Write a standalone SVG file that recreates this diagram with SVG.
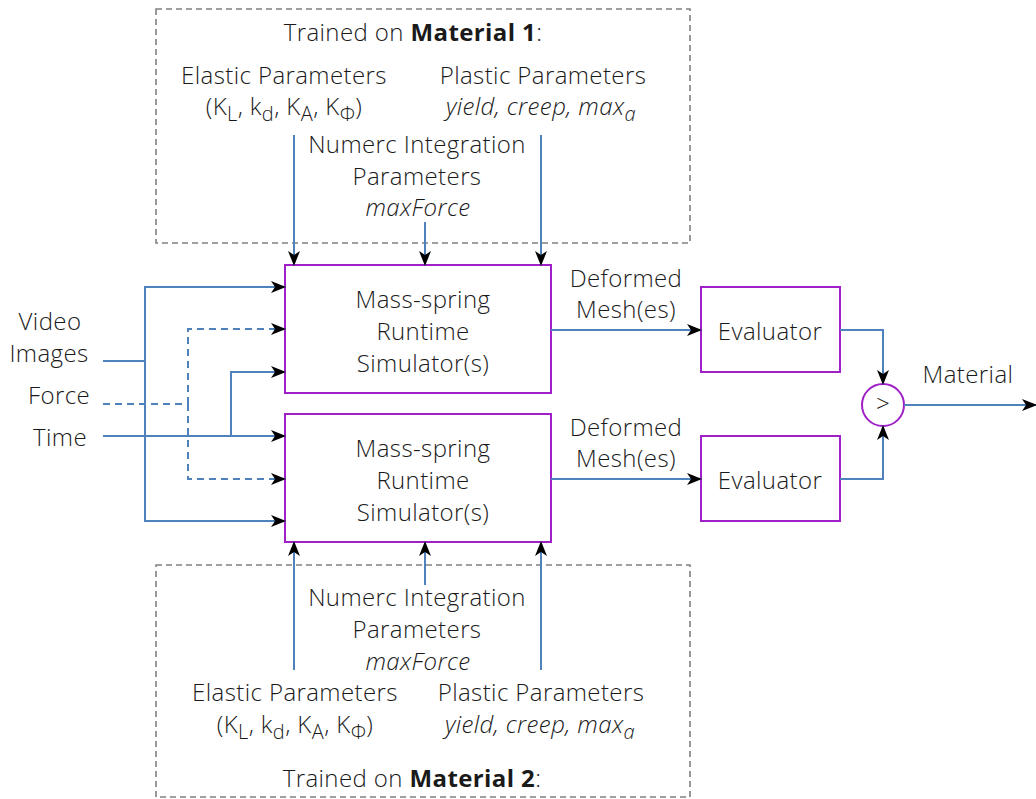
<svg xmlns="http://www.w3.org/2000/svg" width="1036" height="799" viewBox="0 0 1036 799">
<style>
text{font-family:"Open Sans","Noto Sans","Liberation Sans",sans-serif;font-weight:300;font-size:24px;letter-spacing:0.4px;fill:#1a1a1a;text-anchor:middle}
.it{font-style:italic}
.b{font-weight:700}
.s{font-size:20px}
.grp{fill:none;stroke:#808080;stroke-width:1.6;stroke-dasharray:6,4}
.blk{fill:#fff;stroke:#a020c8;stroke-width:2}
.w{fill:none;stroke:#4f81bd;stroke-width:2}
.d{stroke-dasharray:7,5}
.a{marker-end:url(#ah)}
</style>
<defs>
<marker id="ah" markerUnits="userSpaceOnUse" markerWidth="16" markerHeight="12" viewBox="0 0 16 12" refX="14" refY="6" orient="auto">
<path d="M0,0 L15,6 L0,12 L4,6 Z" fill="#000"/>
</marker>
</defs>
<g id="group1">
<rect class="grp" x="156" y="9" width="534" height="234"/>
<text x="413" y="41">Trained on <tspan class="b">Material 1</tspan>:</text>
<text x="284" y="84">Elastic Parameters</text>
<text x="284" y="115">(K<tspan class="s" dy="6">L</tspan><tspan dy="-6">, k</tspan><tspan class="s" dy="6">d</tspan><tspan dy="-6">, K</tspan><tspan class="s" dy="6">A</tspan><tspan dy="-6">, K</tspan><tspan class="s" dy="6">Φ</tspan><tspan dy="-6">)</tspan></text>
<text x="543" y="84">Plastic Parameters</text>
<text x="541" y="115" class="it">yield, creep, max<tspan class="s" dy="6">a</tspan></text>
<text x="417" y="153">Numerc Integration</text>
<text x="417" y="185">Parameters</text>
<text x="418" y="216" class="it">maxForce</text>
</g>
<g id="group2">
<rect class="grp" x="156" y="565" width="534" height="232"/>
<text x="417" y="606">Numerc Integration</text>
<text x="417" y="638">Parameters</text>
<text x="418" y="670" class="it">maxForce</text>
<text x="295" y="701">Elastic Parameters</text>
<text x="295" y="733">(K<tspan class="s" dy="6">L</tspan><tspan dy="-6">, k</tspan><tspan class="s" dy="6">d</tspan><tspan dy="-6">, K</tspan><tspan class="s" dy="6">A</tspan><tspan dy="-6">, K</tspan><tspan class="s" dy="6">Φ</tspan><tspan dy="-6">)</tspan></text>
<text x="541" y="701">Plastic Parameters</text>
<text x="540" y="733" class="it">yield, creep, max<tspan class="s" dy="6">a</tspan></text>
<text x="412" y="787">Trained on <tspan class="b">Material 2</tspan>:</text>
</g>
<g id="inputs">
<text x="50" y="330">Video</text>
<text x="49" y="362">Images</text>
<text x="59" y="404">Force</text>
<text x="60" y="446">Time</text>
</g>
<g id="sim1">
<rect class="blk" x="285" y="265" width="266" height="128"/>
<text x="423" y="308">Mass-spring</text>
<text x="423" y="340">Runtime</text>
<text x="423" y="372">Simulator(s)</text>
</g>
<g id="sim2">
<rect class="blk" x="285" y="414" width="266" height="128"/>
<text x="423" y="457">Mass-spring</text>
<text x="423" y="489">Runtime</text>
<text x="423" y="521">Simulator(s)</text>
</g>
<g id="eval1">
<rect class="blk" x="701" y="287" width="139" height="85"/>
<text x="770" y="340">Evaluator</text>
</g>
<g id="eval2">
<rect class="blk" x="701" y="436" width="139" height="85"/>
<text x="770" y="489">Evaluator</text>
</g>
<g id="compare">
<circle class="blk" cx="883" cy="405" r="21"/>
<text x="883" y="412" font-size="20">&gt;</text>
</g>
<g id="connectors">
<path class="w a" d="M294,135 V265"/>
<path class="w a" d="M425,222 V265"/>
<path class="w a" d="M541,135 V265"/>
<path class="w a" d="M294,670 V542"/>
<path class="w a" d="M425,585 V542"/>
<path class="w a" d="M541,670 V542"/>
<path class="w" d="M103,361 H145"/>
<path class="w a" d="M145,361 V287 H285"/>
<path class="w a" d="M145,361 V521 H285"/>
<path class="w d" d="M103,404 H188"/>
<path class="w d a" d="M188,404 V329 H285"/>
<path class="w d a" d="M188,404 V479 H285"/>
<path class="w a" d="M103,436 H285"/>
<path class="w a" d="M231,436 V372 H285"/>
<path class="w a" d="M551,330 H701"/>
<path class="w a" d="M551,479 H701"/>
<path class="w a" d="M840,330 H883 V384"/>
<path class="w a" d="M840,479 H883 V426"/>
<path class="w a" d="M904,405 H1036"/>
<text x="626" y="287">Deformed</text>
<text x="626" y="318">Mesh(es)</text>
<text x="626" y="436">Deformed</text>
<text x="626" y="467">Mesh(es)</text>
<text x="968" y="383">Material</text>
</g>
</svg>
